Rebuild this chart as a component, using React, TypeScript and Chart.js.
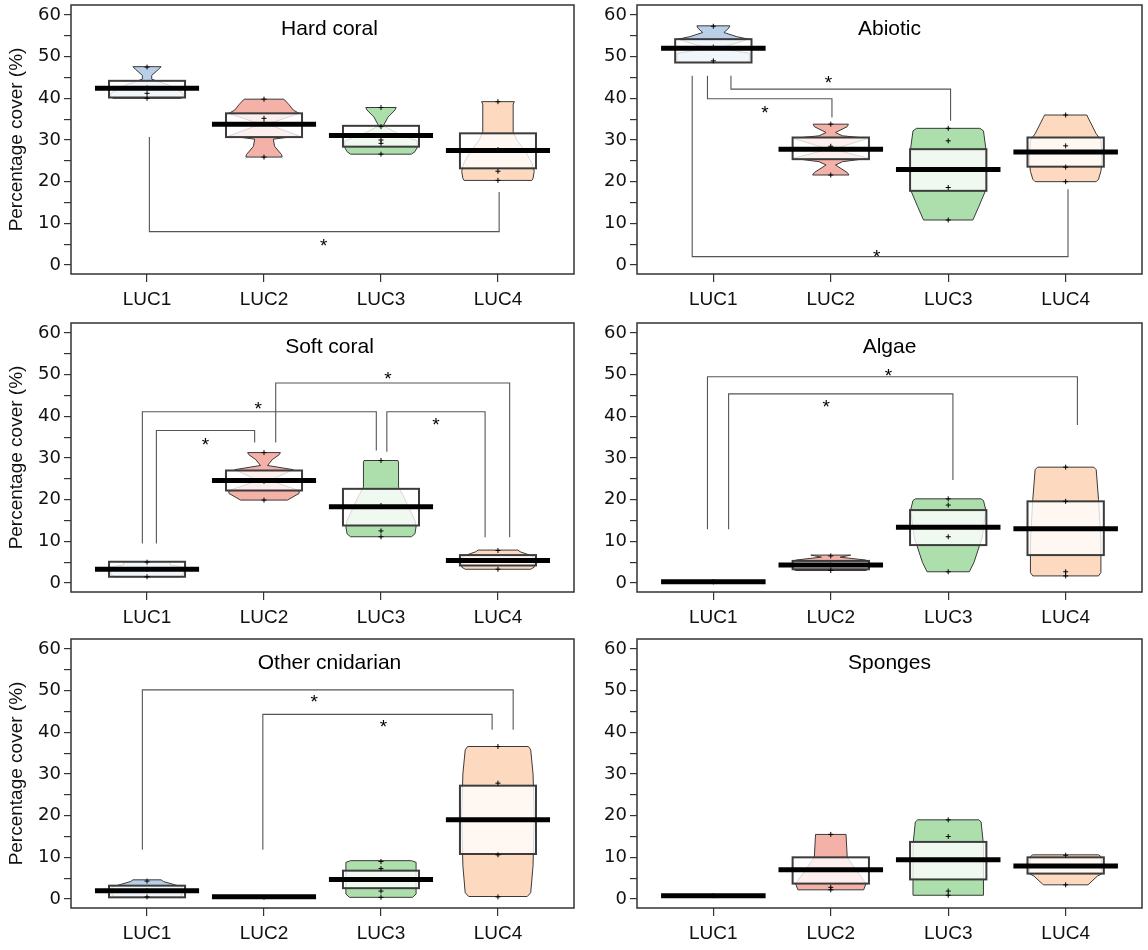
import React, { useEffect, useRef } from 'react';
import { Chart, registerables } from 'chart.js';

Chart.register(...registerables);

// ---------- shared ----------
const groups = ['LUC1', 'LUC2', 'LUC3', 'LUC4'];
const yTickValues = [0, 10, 20, 30, 40, 50, 60];
const violinColors = ['#b9cfe8', '#f4b1a7', '#addfad', '#fcd9bf'];
const yAxisTitle = 'Percentage cover (%)';

// ---------- Hard coral ----------
const hardCoralMedian = [42.4, 33.8, 31.1, 27.5];
const hardCoralQ1 = [40.2, 30.7, 28.4, 23.2];
const hardCoralQ3 = [44.2, 36.4, 33.4, 31.6];
const hardCoralPoints = [[47.5, 42.5, 41.2, 40], [39.8, 35.2, 34, 25.9], [37.8, 33.2, 30, 29.2, 26.6], [39.2, 27.7, 22.5, 20.3]];
const hardCoralViolin = [
  [[47.6, 0.12], [47.0, 0.1], [45.5, 0.04], [44.6, 0.04], [43.0, 0.2], [41.2, 0.31], [40.4, 0.31], [40.0, 0.29]],
  [[39.8, 0.17], [38.6, 0.21], [37.2, 0.25], [36.4, 0.3], [33.8, 0.03], [31.0, 0.3], [30.2, 0.08], [28.5, 0.09], [26.5, 0.15], [25.9, 0.155]],
  [[37.8, 0.13], [37.2, 0.12], [35.5, 0.06], [33.4, 0.02], [31.5, 0.15], [29.8, 0.31], [28.2, 0.31], [27.2, 0.29], [26.6, 0.26]],
  [[39.2, 0.14], [38.6, 0.13], [32, 0.13], [30, 0.16], [27, 0.24], [24.5, 0.29], [22.5, 0.31], [20.8, 0.3], [20.3, 0.29]],
];
const hardCoralBrackets = [[1.02, 30.7, 4.01, 17.5, 8.0]];
const hardCoralStars = [[2.51, 5.8]];

// ---------- Abiotic ----------
const abioticMedian = [52.0, 27.8, 22.9, 27.1];
const abioticQ1 = [48.6, 25.4, 17.8, 23.6];
const abioticQ3 = [54.2, 30.6, 27.8, 30.6];
const abioticPoints = [[57.3, 52.3, 49], [33.8, 28.5, 21.6], [32.8, 29.8, 18.6, 10.8], [36, 28.6, 23.5, 20]];
const abioticViolin = [
  [[57.4, 0.14], [56.8, 0.13], [55.8, 0.09], [54.8, 0.2], [54.2, 0.3], [52.0, 0.05], [50.8, 0.31], [49.2, 0.31], [48.6, 0.28]],
  [[33.8, 0.15], [33.2, 0.14], [31.8, 0.04], [31.0, 0.1], [30.4, 0.32], [27.8, 0.02], [25.6, 0.32], [24.8, 0.1], [24.0, 0.04], [22.2, 0.14], [21.6, 0.155]],
  [[32.8, 0.27], [32.2, 0.3], [28, 0.32], [18, 0.32], [14, 0.26], [10.8, 0.21]],
  [[36, 0.18], [35.4, 0.19], [31.5, 0.26], [30, 0.3], [25, 0.31], [22.5, 0.3], [20.6, 0.28], [20, 0.26]],
];
const abioticBrackets = [[0.95, 45.4, 2.01, 35.4, 39.9], [1.15, 45.4, 3.02, 34.6, 42.2], [0.82, 45.4, 4.02, 18.2, 2.0]];
const abioticStars = [[1.44, 37.8], [1.98, 44.8], [2.39, 3.2]];

// ---------- Soft coral ----------
const softCoralMedian = [3.3, 24.6, 18.3, 5.4];
const softCoralQ1 = [1.5, 22.2, 13.8, 4.2];
const softCoralQ3 = [5.1, 27.0, 22.6, 6.7];
const softCoralPoints = [[5, 3.3, 1.5], [31.3, 24.4, 19.9], [29.4, 18.6, 12.5, 11.1], [7.8, 5.4, 3.3]];
const softCoralViolin = [
  [[5.1, 0.18], [4.8, 0.2], [4.3, 0.2], [3.9, 0.31], [2.0, 0.31], [1.5, 0.28]],
  [[31.3, 0.14], [30.8, 0.13], [29.6, 0.07], [28.2, 0.03], [27.2, 0.25], [24.6, 0.05], [22.2, 0.3], [21.5, 0.3], [19.9, 0.2]],
  [[29.4, 0.145], [29.0, 0.15], [23.0, 0.15], [21, 0.19], [15, 0.29], [13.5, 0.3], [11.8, 0.29], [11.1, 0.26]],
  [[7.9, 0.17], [7.5, 0.19], [6.8, 0.26], [6.2, 0.31], [3.8, 0.31], [3.3, 0.28]],
];
const softCoralBrackets = [[1.08, 9.5, 1.92, 33.7, 36.6], [0.96, 9.5, 2.96, 31.8, 41.1], [2.1, 33.7, 4.1, 11.0, 48], [3.05, 31.5, 3.89, 11.0, 41.1]];
const softCoralStars = [[1.5, 34.3], [1.95, 42.9], [3.06, 50.2], [3.47, 39.1]];

// ---------- Algae ----------
const algaeMedian = [0.3, 4.3, 13.4, 13.0];
const algaeQ1 = [0.3, 3.3, 9.1, 6.7];
const algaeQ3 = [0.3, 5.3, 17.5, 19.6];
const algaePoints = [[0.3, 0.3], [6.5, 4.3, 3], [20.2, 18.7, 11.1, 2.7], [27.8, 19.6, 2.7, 1.7]];
const algaeViolin = [
  [],
  [[6.7, 0.17], [6.2, 0.08], [5.5, 0.3], [3.4, 0.32], [3.0, 0.3]],
  [[20.2, 0.28], [19.8, 0.3], [17.5, 0.32], [11, 0.29], [5, 0.22], [2.7, 0.18]],
  [[27.8, 0.24], [27.2, 0.26], [20, 0.28], [10, 0.3], [2.5, 0.3], [1.7, 0.28]],
];
const algaeBrackets = [[0.95, 12.9, 4.1, 37.9, 49.5], [1.13, 12.9, 3.04, 24.7, 45.4]];
const algaeStars = [[2.49, 51], [1.96, 43.5]];

// ---------- Other cnidarian ----------
const otherCnidMedian = [2.0, 0.55, 4.7, 19.0];
const otherCnidQ1 = [0.4, 0.55, 2.6, 10.8];
const otherCnidQ3 = [3.2, 0.55, 6.8, 27.2];
const otherCnidPoints = [[4.3, 2, 0.5], [0.4], [9, 7.3, 1.9, 0.4], [36.6, 27.8, 10.6, 0.5]];
const otherCnidViolin = [
  [[4.6, 0.12], [4.2, 0.14], [3.3, 0.25], [2.9, 0.3], [0.9, 0.3], [0.4, 0.27]],
  [],
  [[9.2, 0.26], [8.8, 0.3], [1.2, 0.3], [0.4, 0.27]],
  [[36.6, 0.26], [35.8, 0.28], [30, 0.3], [20, 0.31], [8, 0.3], [1.5, 0.28], [0.6, 0.25]],
];
const otherCnidBrackets = [[0.96, 11.8, 4.13, 40.6, 50.2], [1.99, 11.8, 3.95, 40.6, 44.3]];
const otherCnidStars = [[2.43, 48.4], [3.02, 42.4]];

// ---------- Sponges ----------
const spongesMedian = [0.8, 7.0, 9.4, 7.9];
const spongesQ1 = [0.8, 3.7, 4.7, 6.1];
const spongesQ3 = [0.8, 10.0, 13.7, 10.0];
const spongesPoints = [[0.8], [15.5, 2.8, 2.2], [19, 15, 1.9, 0.9], [10.5, 3.4]];
const spongesViolin = [
  [],
  [[15.5, 0.13], [10.0, 0.14], [6, 0.24], [3.7, 0.3], [2.2, 0.28]],
  [[19, 0.26], [18.5, 0.28], [13, 0.3], [5, 0.3], [0.9, 0.3]],
  [[10.6, 0.28], [10.2, 0.3], [6.1, 0.31], [5.5, 0.27], [3.4, 0.19]],
];
const spongesBrackets: number[][] = [];
const spongesStars: number[][] = [];

type Panel = {
  title: string;
  median: number[];
  q1: number[];
  q3: number[];
  points: number[][];
  violin: number[][][];
  brackets: number[][];
  stars: number[][];
};

const panels: Panel[] = [
  { title: 'Hard coral', median: hardCoralMedian, q1: hardCoralQ1, q3: hardCoralQ3, points: hardCoralPoints, violin: hardCoralViolin, brackets: hardCoralBrackets, stars: hardCoralStars },
  { title: 'Abiotic', median: abioticMedian, q1: abioticQ1, q3: abioticQ3, points: abioticPoints, violin: abioticViolin, brackets: abioticBrackets, stars: abioticStars },
  { title: 'Soft coral', median: softCoralMedian, q1: softCoralQ1, q3: softCoralQ3, points: softCoralPoints, violin: softCoralViolin, brackets: softCoralBrackets, stars: softCoralStars },
  { title: 'Algae', median: algaeMedian, q1: algaeQ1, q3: algaeQ3, points: algaePoints, violin: algaeViolin, brackets: algaeBrackets, stars: algaeStars },
  { title: 'Other cnidarian', median: otherCnidMedian, q1: otherCnidQ1, q3: otherCnidQ3, points: otherCnidPoints, violin: otherCnidViolin, brackets: otherCnidBrackets, stars: otherCnidStars },
  { title: 'Sponges', median: spongesMedian, q1: spongesQ1, q3: spongesQ3, points: spongesPoints, violin: spongesViolin, brackets: spongesBrackets, stars: spongesStars },
];

const FONT = "'Liberation Sans', Arial, Helvetica, sans-serif";
const TICK_FONT = "'DejaVu Sans', 'Liberation Sans', Arial, sans-serif";
const BOX_HALF = 0.325;
const MEDIAN_HALF = 0.445;

const violinPlugin = {
  id: 'violinBox',
  beforeDatasetsDraw(chart: any) {
    const panel: Panel = chart.options.plugins.violinBox.panel;
    const { ctx } = chart;
    const xs = chart.scales.x;
    const ys = chart.scales.y;
    ctx.save();
    // significance brackets
    ctx.strokeStyle = '#555';
    ctx.lineWidth = 1.1;
    panel.brackets.forEach(([x1, y1, x2, y2, yl]) => {
      ctx.beginPath();
      ctx.moveTo(xs.getPixelForValue(x1), ys.getPixelForValue(y1));
      ctx.lineTo(xs.getPixelForValue(x1), ys.getPixelForValue(yl));
      ctx.lineTo(xs.getPixelForValue(x2), ys.getPixelForValue(yl));
      ctx.lineTo(xs.getPixelForValue(x2), ys.getPixelForValue(y2));
      ctx.stroke();
    });
    ctx.fillStyle = '#000';
    ctx.font = `19px ${FONT}`;
    ctx.textAlign = 'center';
    ctx.textBaseline = 'alphabetic';
    panel.stars.forEach(([sx, sy]) => {
      ctx.fillText('*', xs.getPixelForValue(sx), ys.getPixelForValue(sy) + 11);
    });

    groups.forEach((_, gi) => {
      const g = gi + 1;
      const prof = panel.violin[gi];
      if (prof && prof.length) {
        ctx.beginPath();
        prof.forEach(([v, h], i) => {
          const px = xs.getPixelForValue(g + h);
          const py = ys.getPixelForValue(v);
          if (i === 0) ctx.moveTo(px, py); else ctx.lineTo(px, py);
        });
        for (let i = prof.length - 1; i >= 0; i--) {
          const [v, h] = prof[i];
          ctx.lineTo(xs.getPixelForValue(g - h), ys.getPixelForValue(v));
        }
        ctx.closePath();
        ctx.fillStyle = violinColors[gi];
        ctx.fill();
        ctx.strokeStyle = '#3a3a3a';
        ctx.lineWidth = 1;
        ctx.stroke();
      }
      // box
      const bx1 = xs.getPixelForValue(g - BOX_HALF);
      const bx2 = xs.getPixelForValue(g + BOX_HALF);
      const by1 = ys.getPixelForValue(panel.q3[gi]);
      const by2 = ys.getPixelForValue(panel.q1[gi]);
      if (by2 - by1 > 0.5) {
        ctx.fillStyle = 'rgba(255,255,255,0.8)';
        ctx.fillRect(bx1, by1, bx2 - bx1, by2 - by1);
        ctx.strokeStyle = '#3c3c3c';
        ctx.lineWidth = 2;
        ctx.strokeRect(bx1, by1, bx2 - bx1, by2 - by1);
      }
      // median
      const my = ys.getPixelForValue(panel.median[gi]);
      ctx.strokeStyle = '#000';
      ctx.lineWidth = 5;
      ctx.beginPath();
      ctx.moveTo(xs.getPixelForValue(g - MEDIAN_HALF), my);
      ctx.lineTo(xs.getPixelForValue(g + MEDIAN_HALF), my);
      ctx.stroke();
    });
    ctx.restore();
  },
  afterDraw(chart: any) {
    const panel: Panel = chart.options.plugins.violinBox.panel;
    const isLeft: boolean = chart.options.plugins.violinBox.isLeft;
    const { ctx, chartArea } = chart;
    ctx.save();
    ctx.strokeStyle = '#333';
    ctx.lineWidth = 1.5;
    ctx.strokeRect(chartArea.left, chartArea.top, chartArea.right - chartArea.left, chartArea.bottom - chartArea.top);
    ctx.fillStyle = '#000';
    ctx.font = `21px ${FONT}`;
    ctx.textAlign = 'center';
    ctx.textBaseline = 'middle';
    const cx = (chartArea.left + chartArea.right) / 2 + (isLeft ? 7 : 0);
    ctx.fillText(panel.title, cx, chartArea.top + 24);
    ctx.restore();
  },
};

function PanelChart({ panel, left, top, width, height, isLeft }: { panel: Panel; left: number; top: number; width: number; height: number; isLeft: boolean }) {
  const ref = useRef<HTMLCanvasElement>(null);
  useEffect(() => {
    if (!ref.current) return;
    const pts: { x: number; y: number }[] = [];
    panel.points.forEach((arr, gi) => arr.forEach((v) => pts.push({ x: gi + 1, y: v })));
    const yTicksAll: number[] = [];
    yTickValues.forEach((v, i) => {
      yTicksAll.push(v);
      if (i < yTickValues.length - 1) yTicksAll.push(v + 5);
    });
    const chart = new Chart(ref.current, {
      type: 'scatter',
      data: {
        datasets: [
          {
            data: pts,
            pointStyle: 'cross',
            pointRadius: 2.5,
            borderColor: '#000',
            backgroundColor: '#000',
            borderWidth: 1,
          },
        ],
      },
      options: {
        responsive: false,
        animation: false,
        devicePixelRatio: 1,
        layout: { autoPadding: false, padding: { top: 5, right: 6, left: 0, bottom: 0 } },
        plugins: {
          legend: { display: false },
          tooltip: { enabled: false },
          violinBox: { panel, isLeft },
        } as any,
        scales: {
          x: {
            type: 'linear',
            min: 0.35,
            max: 4.65,
            afterBuildTicks: (scale: any) => {
              scale.ticks = groups.map((_, i) => ({ value: i + 1 }));
            },
            afterFit: (scale: any) => {
              scale.height = 40;
              scale.paddingLeft = 0;
              scale.paddingRight = 0;
            },
            ticks: {
              autoSkip: false,
              maxRotation: 0,
              padding: 6,
              color: '#111',
              font: { family: FONT, size: 19 },
              callback: (v: any) => groups[Math.round(Number(v)) - 1] ?? '',
            },
            grid: { display: true, drawOnChartArea: false, drawTicks: true, tickLength: 8, color: '#333', lineWidth: 1.2 },
            border: { display: false },
          },
          y: {
            type: 'linear',
            min: -2.16,
            max: 62.4,
            afterBuildTicks: (scale: any) => {
              scale.ticks = yTicksAll.map((v) => ({ value: v }));
            },
            afterFit: (scale: any) => {
              scale.width = isLeft ? 71 : 57;
              scale.paddingTop = 0;
              scale.paddingBottom = 0;
            },
            ticks: {
              autoSkip: false,
              padding: 3,
              color: '#111',
              font: { family: TICK_FONT, size: 18 },
              callback: (v: any) => (yTickValues.includes(Number(v)) ? String(v) : ''),
            },
            grid: { display: true, drawOnChartArea: false, drawTicks: true, tickLength: 7, color: '#333', lineWidth: 1.2 },
            border: { display: false },
            title: {
              display: isLeft,
              text: yAxisTitle,
              color: '#111',
              font: { family: FONT, size: 19 },
              padding: { top: 5, bottom: 0 },
            },
          },
        },
      } as any,
      plugins: [violinPlugin],
    });
    return () => chart.destroy();
  }, [panel, isLeft]);
  return (
    <canvas
      ref={ref}
      width={width}
      height={height}
      style={{ position: 'absolute', left, top, width, height }}
    />
  );
}

const rowTops = [0, 318, 634];

export default function App() {
  return (
    <div style={{ position: 'absolute', left: 0, top: 0, width: 1148, height: 950, background: '#fff' }}>
      {panels.map((p, i) => {
        const col = i % 2;
        const row = Math.floor(i / 2);
        return (
          <PanelChart
            key={p.title}
            panel={p}
            left={col === 0 ? 0 : 580}
            top={rowTops[row]}
            width={col === 0 ? 580 : 568}
            height={314}
            isLeft={col === 0}
          />
        );
      })}
    </div>
  );
}
